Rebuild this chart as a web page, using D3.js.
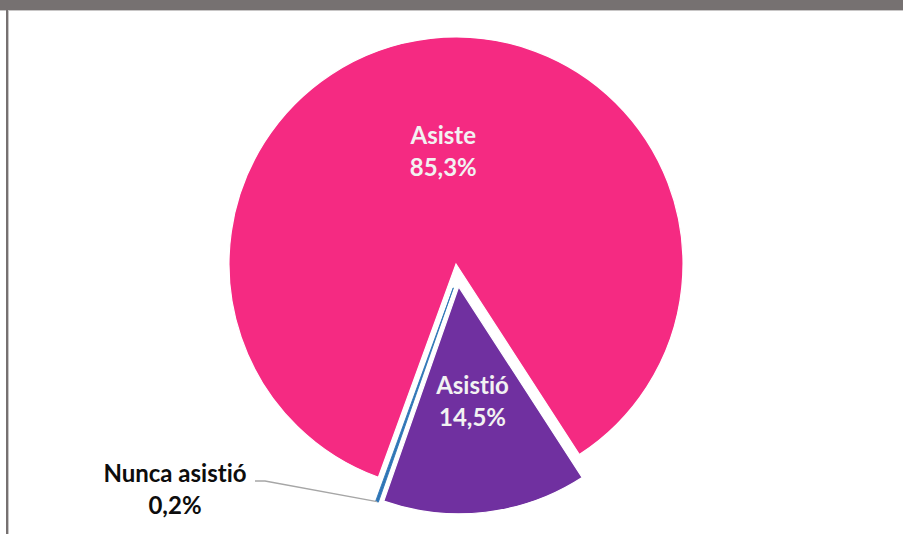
<!DOCTYPE html>
<html>
<head>
<meta charset="utf-8">
<script src="https://cdn.jsdelivr.net/npm/d3@7"></script>
<style>
  html, body { margin: 0; padding: 0; background: #ffffff; }
  svg { display: block; }
  text { font-family: Lato, "Open Sans", sans-serif; font-weight: 700; font-variant-ligatures: none; font-feature-settings: "liga" 0, "clig" 0; }
</style>
</head>
<body>
<svg id="chart" width="903" height="534"></svg>
<script>
// ---- data ----
const categories = ["Asiste", "Asistió", "Nunca asistió"];
const values = [85.3, 14.5, 0.2];
const colors = ["#F52A82", "#7030A0", "#2E75B6"];

// ---- layout / style ----
const W = 903, H = 534;
const cx = 456, cy = 264, R = 227;
const firstSliceDeg = 200;
const explodeDist = [0, 23, 24];
const explodeDirDeg = [null, null, 186.4]; // null = along slice bisector
const labelRadiusFactor = [0.5, 0.51];
const fontSize = 24;
const lineGap = 32;

const svg = d3.select("#chart");

// frame
svg.append("rect").attr("x", 0).attr("y", 0).attr("width", W).attr("height", 10).attr("fill", "#767171");
svg.append("rect").attr("x", 0).attr("y", 10).attr("width", W).attr("height", 1).attr("fill", "#c8c6c6");
svg.append("rect").attr("x", 6).attr("y", 10).attr("width", 2).attr("height", H - 10).attr("fill", "#767171");
svg.append("rect").attr("x", 8).attr("y", 11).attr("width", 1).attr("height", H - 11).attr("fill", "#c8c6c6");

const rad = d => d * Math.PI / 180;
const data = categories.map((c, i) => ({ name: c, value: values[i], color: colors[i], i }));

const pie = d3.pie().value(d => d.value).sort(null)
  .startAngle(rad(firstSliceDeg)).endAngle(rad(firstSliceDeg + 360));
const arcs = pie(data);
const arc = d3.arc().innerRadius(0).outerRadius(R);

const fmt = v => v.toFixed(1).replace(".", ",") + "%";

function offsetOf(a) {
  const i = a.data.i;
  const ang = explodeDirDeg[i] !== null ? rad(explodeDirDeg[i]) : (a.startAngle + a.endAngle) / 2;
  return [explodeDist[i] * Math.sin(ang), -explodeDist[i] * Math.cos(ang)];
}

const g = svg.append("g").attr("transform", `translate(${cx},${cy})`);

arcs.forEach(a => {
  const [ox, oy] = offsetOf(a);
  const isThin = a.data.value < 1;
  g.append("path")
    .attr("d", arc(a))
    .attr("transform", `translate(${ox},${oy})`)
    .attr("fill", a.data.color)
    .attr("stroke", isThin ? a.data.color : "#ffffff")
    .attr("stroke-width", isThin ? 0.9 : 1.2)
    .attr("stroke-linejoin", "miter");
});

// inside labels
arcs.forEach(a => {
  const i = a.data.i;
  if (i >= labelRadiusFactor.length) return;
  const [ox, oy] = offsetOf(a);
  const mid = (a.startAngle + a.endAngle) / 2;
  const lr = R * labelRadiusFactor[i];
  const lx = ox + lr * Math.sin(mid);
  const ly = oy - lr * Math.cos(mid);
  const t = g.append("text")
    .attr("text-anchor", "middle")
    .attr("fill", "#F2F2F2")
    .attr("font-size", fontSize);
  t.append("tspan").attr("x", lx).attr("y", ly - lineGap / 2 + fontSize * 0.36).text(a.data.name);
  t.append("tspan").attr("x", lx).attr("y", ly + lineGap / 2 + fontSize * 0.36).text(fmt(a.data.value));
});

// outside label with leader for the small slice
const small = arcs[2];
{
  const [ox, oy] = offsetOf(small);
  const mid = (small.startAngle + small.endAngle) / 2;
  const ex = cx + ox + R * Math.sin(mid);
  const ey = cy + oy - R * Math.cos(mid);
  const labelCx = 175, labelCy = 489;
  const leaderStartX = 255, leaderY = 481;
  svg.append("polyline")
    .attr("points", `${leaderStartX},${leaderY} ${leaderStartX + 10},${leaderY} ${ex},${ey}`)
    .attr("fill", "none")
    .attr("stroke", "#a6a6a6")
    .attr("stroke-width", 1.3);
  const t = svg.append("text")
    .attr("text-anchor", "middle")
    .attr("fill", "#0d0d0d")
    .attr("font-size", fontSize);
  t.append("tspan").attr("x", labelCx).attr("y", labelCy - lineGap / 2 + fontSize * 0.36).text(small.data.name);
  t.append("tspan").attr("x", labelCx).attr("y", labelCy + lineGap / 2 + fontSize * 0.36).text(fmt(small.data.value));
}
</script>
</body>
</html>
